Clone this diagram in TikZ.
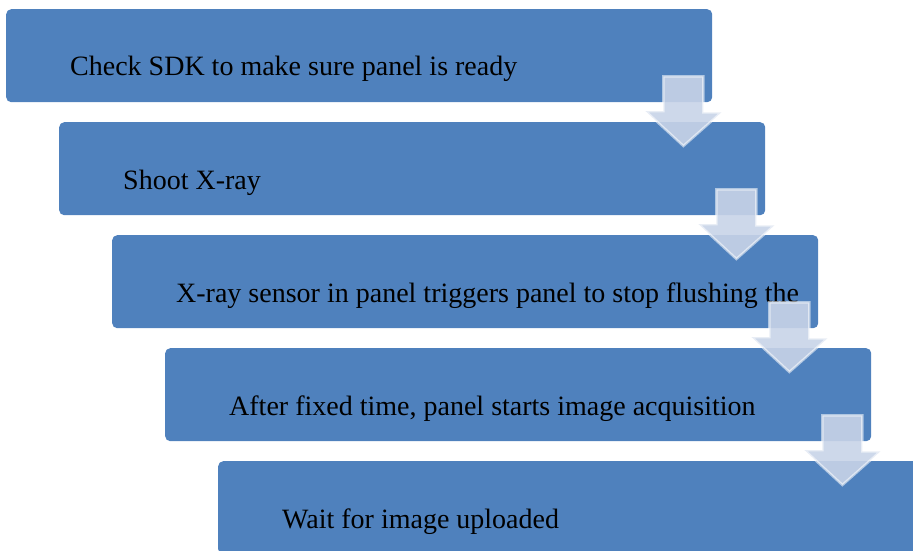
\documentclass[tikz,border=0pt]{standalone}
\usepackage{fontspec}
\setmainfont{Liberation Serif}
\usetikzlibrary{calc}
\definecolor{StepBlue}{RGB}{79,129,189}
\definecolor{ArrowTint}{RGB}{200,212,232}
\tikzset{
  stepbox/.style={fill=StepBlue, draw=none, rounded corners=5pt, minimum width=706pt,
    minimum height=93pt, inner sep=0pt, anchor=north west},
  steptxt/.style={anchor=base west, inner sep=0pt, font=\fontsize{28}{34}\selectfont},
  downarr/.style={fill=ArrowTint, fill opacity=0.9, draw=white, draw opacity=0.55,
    line width=2.5pt, line join=miter},
}

\begin{document}
\begin{tikzpicture}[x=1pt, y=-1pt]
    \useasboundingbox (0,0) rectangle (913,551);
    \clip (0,0) rectangle (913,551);
    % staggered steps
    \foreach \i/\lbl in {1/Check SDK to make sure panel is ready, 2/Shoot X-ray,
        3/X-ray sensor in panel triggers panel to stop flushing the,
        4/{After fixed time, panel starts image acquisition}, 5/Wait for image uploaded} {
      \node[stepbox] (s\i) at ({6+53*(\i-1)}, {9+113*(\i-1)}) {};
      \node[steptxt] (t\i) at ([xshift=64pt, yshift=-67pt]s\i.north west) {\lbl};
    }
    % block arrows from step to step
    \foreach \i in {1,...,4} {
      \pgfmathtruncatemacro\j{\i+1}
      \coordinate (a\i) at ([xshift=-29pt, yshift=26pt]s\i.south east);
      \coordinate (b\i) at ([yshift=-24pt]s\j.north -| a\i);
      \draw[downarr] (a\i) ++(-20,0) -- ++(40,0) -- ++(0,36) -- ++(18,0) -- (b\i)
        -- ++(-38,-35) -- ++(18,0) -- cycle;
    }
  \end{tikzpicture}
\end{document}
